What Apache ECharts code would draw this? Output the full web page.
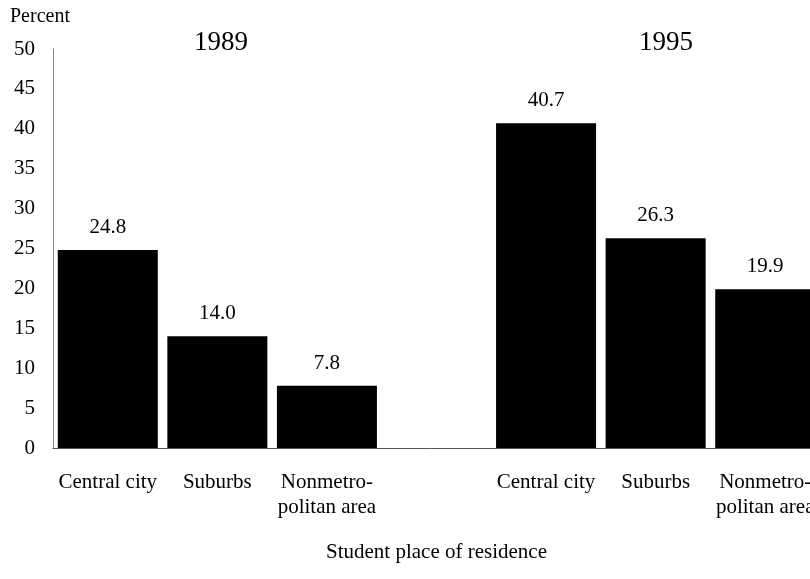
<!DOCTYPE html>
<html>
<head>
<meta charset="utf-8">
<script src="https://cdn.jsdelivr.net/npm/echarts@6/dist/echarts.min.js"></script>
<style>
  html, body { margin: 0; padding: 0; background: #fff; }
  #chart { width: 810px; height: 579px; }
</style>
</head>
<body>
<div id="chart"></div>
<script>
// categories per year, blank slot in between
const places = ['Central city', 'Suburbs', 'Nonmetro-\npolitan area'];
const years = ['1989', '1995'];
const values1989 = [24.8, 14.0, 7.8];
const values1995 = [40.7, 26.3, 19.9];
const yTicks = { min: 0, max: 50, step: 5 };

const FONT = 'Liberation Serif';

// build the combined axis: 3 + gap + 3
const categories = places.concat([''], places);
const seriesData = values1989.concat([null], values1995);

const chart = echarts.init(document.getElementById('chart'));

const option = {
    animation: false,
    textStyle: { fontFamily: FONT, color: '#000' },
    grid: {
        left: 53,
        top: 49,
        width: 767,
        height: 399,
        outerBoundsMode: 'none'
    },
    graphic: [
        {
            type: 'text',
            left: 10,
            top: 7,
            style: { text: 'Percent', font: '20px ' + FONT, fill: '#000' }
        },
        {
            type: 'text',
            x: 221,
            y: 43,
            style: { text: years[0], font: '27px ' + FONT, fill: '#000', align: 'center', verticalAlign: 'middle' }
        },
        {
            type: 'text',
            x: 666,
            y: 43,
            style: { text: years[1], font: '27px ' + FONT, fill: '#000', align: 'center', verticalAlign: 'middle' }
        }
    ],
    xAxis: {
        type: 'category',
        data: categories,
        name: 'Student place of residence',
        nameLocation: 'middle',
        nameGap: 94,
        nameTextStyle: { fontFamily: FONT, fontSize: 21, color: '#000' },
        axisLine: { lineStyle: { color: '#555', width: 1 } },
        axisTick: { show: false },
        axisLabel: {
            interval: 0,
            margin: 22,
            fontFamily: FONT,
            fontSize: 21,
            lineHeight: 25,
            color: '#000'
        }
    },
    yAxis: {
        type: 'value',
        min: yTicks.min,
        max: yTicks.max,
        interval: yTicks.step,
        splitLine: { show: false },
        axisTick: { show: false },
        axisLine: { show: true, lineStyle: { color: '#888', width: 1 } },
        axisLabel: {
            margin: 18,
            fontFamily: FONT,
            fontSize: 21,
            color: '#000'
        }
    },
    series: [
        {
            type: 'bar',
            data: seriesData,
            barWidth: 100,
            itemStyle: { color: '#000' },
            label: {
                show: true,
                position: 'top',
                distance: 12,
                fontFamily: FONT,
                fontSize: 21,
                color: '#000',
                formatter: (p) => p.value == null ? '' : p.value.toFixed(1)
            }
        }
    ]
};

chart.setOption(option);
</script>
</body>
</html>
